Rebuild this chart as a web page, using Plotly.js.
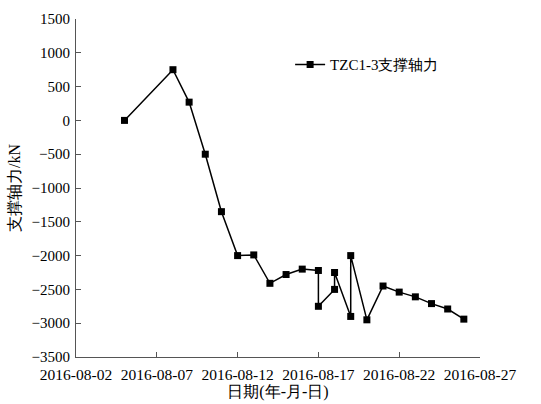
<!DOCTYPE html>
<html>
<head>
<meta charset="utf-8">
<script src="https://cdn.plot.ly/plotly-3.0.1.min.js"></script>
<style>html,body{margin:0;padding:0;background:#fff;}#chart{width:541px;height:404px;}</style>
</head>
<body>
<div id="chart"></div>
<script>
const dates = [
  '2016-08-05','2016-08-08','2016-08-09','2016-08-10','2016-08-11','2016-08-12',
  '2016-08-13','2016-08-14','2016-08-15','2016-08-16','2016-08-17','2016-08-17',
  '2016-08-18','2016-08-18','2016-08-19','2016-08-19','2016-08-20','2016-08-21',
  '2016-08-22','2016-08-23','2016-08-24','2016-08-25','2016-08-26'
];
const axialForce = [
  0, 750, 270, -500, -1350, -2000,
  -1990, -2410, -2280, -2200, -2220, -2750,
  -2500, -2250, -2900, -2000, -2950, -2450,
  -2540, -2610, -2710, -2790, -2940
];
const seriesName = 'TZC1-3支撑轴力';
const xTitle = '日期(年-月-日)';
const yTitle = '支撑轴力/kN';
const xRange = ['2016-08-02', '2016-08-27'];
const yRange = [-3500, 1500];

const font = 'Liberation Serif';

Plotly.newPlot('chart', [{
  x: dates,
  y: axialForce,
  type: 'scatter',
  mode: 'lines+markers',
  name: seriesName,
  line: {color: '#000', width: 1.5},
  marker: {symbol: 'square', size: 7, color: '#000'}
}], {
  width: 541, height: 404,
  margin: {l: 76, r: 61, t: 19, b: 47},
  paper_bgcolor: '#fff', plot_bgcolor: '#fff',
  font: {family: font, size: 15, color: '#000'},
  showlegend: true,
  legend: {x: 0.53, y: 0.865, xanchor: 'left', yanchor: 'middle', bgcolor: 'rgba(0,0,0,0)', font: {size: 15}},
  xaxis: {
    type: 'date',
    range: xRange,
    tick0: xRange[0],
    dtick: 5 * 86400000,
    tickformat: '%Y-%m-%d',
    ticks: 'inside', ticklen: 5, tickcolor: '#555',
    ticklabelstandoff: 3,
    tickfont: {size: 15.5},
    showline: true, linecolor: '#555', linewidth: 1,
    showgrid: false, zeroline: false,
    title: {text: xTitle, standoff: 0, font: {size: 16}}
  },
  yaxis: {
    range: yRange,
    dtick: 500,
    ticks: 'inside', ticklen: 5, tickcolor: '#555',
    ticklabelstandoff: 2,
    showline: true, linecolor: '#555', linewidth: 1,
    showgrid: false, zeroline: false,
    title: {text: yTitle, standoff: 6, font: {size: 16}}
  }
}, {displayModeBar: false, staticPlot: true});
</script>
</body>
</html>
